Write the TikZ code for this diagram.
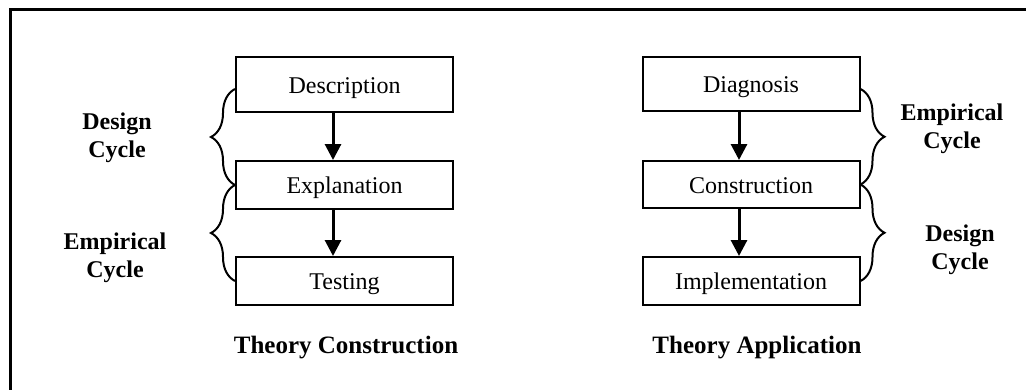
\documentclass[tikz,border=0pt]{standalone}
\usepackage{fontspec}
\setmainfont{Liberation Serif}
\usetikzlibrary{arrows.meta,decorations.pathreplacing}
\begin{document}
\begin{tikzpicture}[x=0.5pt,y=-0.5pt,
  stagebox/.style={draw,line width=1pt,minimum width=108.5pt,inner sep=0pt,
    text height=8.5pt,text depth=0pt,
    font=\fontsize{12}{14.5}\selectfont},
  flow/.style={line width=1.5pt,-{Triangle[length=8pt,width=8pt]}},
  cyclebrace/.style={line width=1pt,decorate,decoration={brace,amplitude=12pt}},
  cyclelabel/.style={align=center,font=\fontsize{12}{14}\selectfont\bfseries},
  title/.style={font=\fontsize{12.5}{15}\selectfont\bfseries}]
  \useasboundingbox (0,0) rectangle (1026,390);
  % frame
  \draw[line width=1.5pt] (10,390) -- (10,10) -- (1026,10);

  % theory construction
  \node[stagebox,minimum height=27.5pt] (desc) at (344.5,84.5) {Description};
  \node[stagebox,minimum height=24pt]   (expl) at (344.5,185) {Explanation};
  \node[stagebox,minimum height=24pt]   (test) at (344.5,281) {Testing};
  \coordinate (axl) at (333,0);
  \draw[flow] (axl |- desc.south) -- (axl |- expl.north);
  \draw[flow] (axl |- expl.south) -- (axl |- test.north);
  \draw[cyclebrace] (expl.west) -- ([yshift=-2.25pt]desc.west);
  \draw[cyclebrace] (test.west) -- (expl.west);
  \node[cyclelabel] (ldes) at (117,138) {Design\\Cycle};
  \node[cyclelabel] (lemp) at (115,258) {Empirical\\Cycle};
  \node[title] (tc) at (346,348) {Theory Construction};

  % theory application
  \node[stagebox,minimum height=27pt]   (diag) at (751,84) {Diagnosis};
  \node[stagebox,minimum height=23.5pt] (cons) at (751,184.5) {Construction};
  \node[stagebox,minimum height=24pt]   (impl) at (751,281) {Implementation};
  \coordinate (axr) at (739,0);
  \draw[flow] (axr |- diag.south) -- (axr |- cons.north);
  \draw[flow] (axr |- cons.south) -- (axr |- impl.north);
  \draw[cyclebrace] ([yshift=-2.5pt]diag.east) -- (cons.east);
  \draw[cyclebrace] (cons.east) -- (impl.east);
  \node[cyclelabel] (remp) at (952,129) {Empirical\\Cycle};
  \node[cyclelabel] (rdes) at (960,250) {Design\\Cycle};
  \node[title] (ta) at (757,348) {Theory Application};
\end{tikzpicture}
\end{document}
